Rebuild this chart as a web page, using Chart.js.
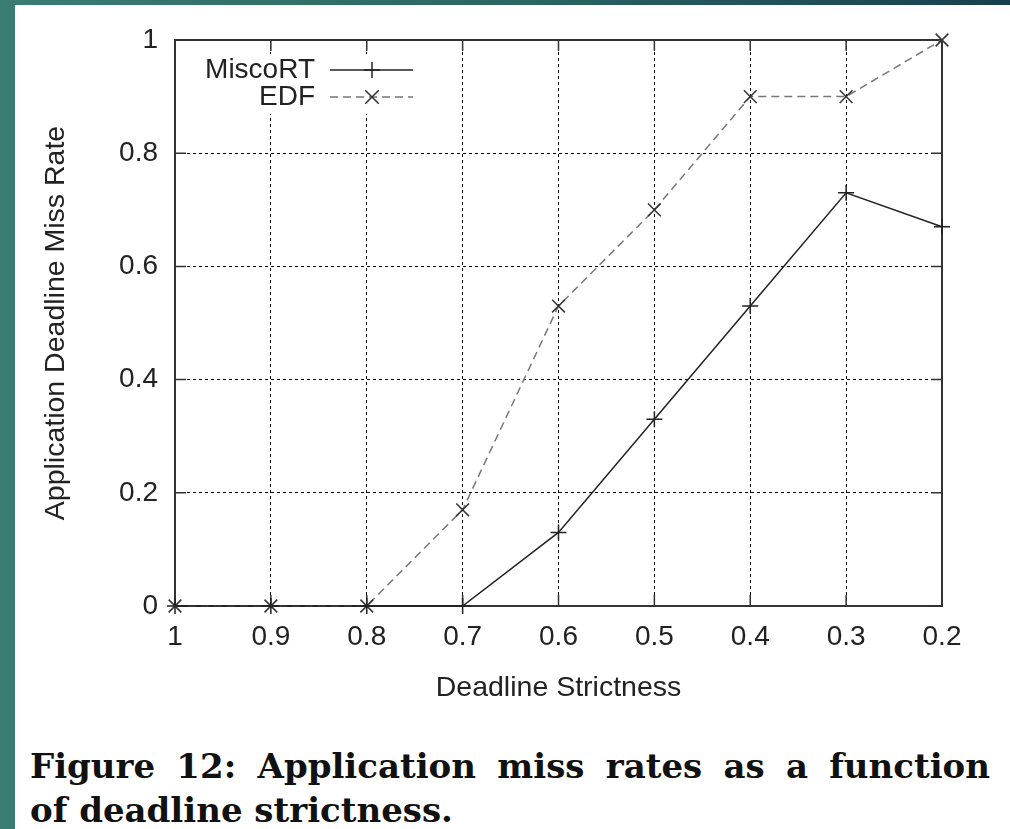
<!DOCTYPE html>
<html>
<head>
<meta charset="utf-8">
<script src="https://cdn.jsdelivr.net/npm/chart.js@4"></script>
<style>
  html, body { margin: 0; padding: 0; }
  body {
    width: 1010px; height: 829px; overflow: hidden; position: relative;
    background: linear-gradient(90deg, #3b7d72 0%, #2c6663 50%, #173f4f 100%);
  }
  #paper { position: absolute; left: 15px; top: 5px; width: 995px; height: 824px; background: #fff; }
  #wrap { position: absolute; left: 0; top: 0; width: 995px; height: 700px; }
  #caption {
    position: absolute; left: 15px; top: 739px; width: 960px;
    font-family: "DejaVu Serif", serif; font-weight: bold; font-size: 34px; line-height: 44px;
    color: #111; text-align: left;
  }
  #caption .l1 { display: block; text-align: justify; text-align-last: justify; }
</style>
</head>
<body>
<div id="paper">
  <div id="wrap"><canvas id="myChart" width="995" height="700"></canvas></div>
  <div id="caption"><span class="l1">Figure 12: Application miss rates as a function</span>of deadline strictness.</div>
</div>
<script>
const strictness = ['1', '0.9', '0.8', '0.7', '0.6', '0.5', '0.4', '0.3', '0.2']
const miscoRT = [0, 0, 0, 0, 0.13, 0.33, 0.53, 0.73, 0.67]
const edf = [0, 0, 0, 0.17, 0.53, 0.7, 0.9, 0.9, 1.0]
const seriesNames = ['MiscoRT', 'EDF']

const font = { family: '"Liberation Sans", Arial, sans-serif', size: 28 }
const titleFont = { family: '"Liberation Sans", Arial, sans-serif', size: 28.5 }

// gnuplot style frame with inward ticks on all four sides
const framePlugin = {
  id: 'frame',
  beforeDatasetsDraw(chart) {
    const { ctx, chartArea: a, scales } = chart
    ctx.save()
    ctx.strokeStyle = '#333'
    ctx.lineWidth = 2
    ctx.setLineDash([])
    ctx.strokeRect(a.left, a.top, a.right - a.left, a.bottom - a.top)
    ctx.lineWidth = 1.5
    ctx.beginPath()
    scales.x.ticks.forEach((t, i) => {
      const x = scales.x.getPixelForTick(i)
      ctx.moveTo(x, a.bottom); ctx.lineTo(x, a.bottom - 11)
      ctx.moveTo(x, a.top); ctx.lineTo(x, a.top + 11)
    })
    scales.y.ticks.forEach((t, i) => {
      const y = scales.y.getPixelForTick(i)
      ctx.moveTo(a.left, y); ctx.lineTo(a.left + 11, y)
      ctx.moveTo(a.right, y); ctx.lineTo(a.right - 11, y)
    })
    ctx.stroke()
    ctx.restore()
  }
}

function mark(ctx, style, x, y, r) {
  ctx.beginPath()
  if (style === 'cross') {
    ctx.moveTo(x - r, y); ctx.lineTo(x + r, y)
    ctx.moveTo(x, y - r); ctx.lineTo(x, y + r)
  } else {
    const d = r * 0.75
    ctx.moveTo(x - d, y - d); ctx.lineTo(x + d, y + d)
    ctx.moveTo(x - d, y + d); ctx.lineTo(x + d, y - d)
  }
  ctx.stroke()
}

const keyPlugin = {
  id: 'key',
  afterDatasetsDraw(chart) {
    const { ctx, chartArea: a } = chart
    ctx.save()
    ctx.fillStyle = '#fff'
    ctx.fillRect(a.left + 12, a.top + 14, 240, 60)
    ctx.font = '28px "Liberation Sans", Arial, sans-serif'
    ctx.textAlign = 'right'
    ctx.textBaseline = 'middle'
    chart.data.datasets.forEach((ds, i) => {
      const y = a.top + 30 + i * 27
      ctx.fillStyle = '#222'
      ctx.fillText(ds.label, a.left + 140, y)
      ctx.strokeStyle = ds.borderColor
      ctx.lineWidth = ds.borderWidth
      ctx.setLineDash(ds.borderDash || [])
      ctx.beginPath()
      ctx.moveTo(a.left + 155, y); ctx.lineTo(a.left + 238, y)
      ctx.stroke()
      ctx.setLineDash([])
      ctx.strokeStyle = ds.pointBorderColor
      ctx.lineWidth = 1.5
      mark(ctx, ds.pointStyle, a.left + 197, y, ds.pointRadius)
    })
    ctx.restore()
  }
}

const ctx = document.getElementById('myChart')
const myChart = new Chart(ctx, {
  type: 'line',
  data: {
    labels: strictness,
    datasets: [{
      label: seriesNames[0],
      data: miscoRT,
      borderColor: '#222',
      borderWidth: 1.5,
      pointStyle: 'cross',
      pointRadius: 8,
      pointBorderColor: '#222',
      pointBorderWidth: 1.5,
      clip: false
    }, {
      label: seriesNames[1],
      data: edf,
      borderColor: '#777',
      borderWidth: 1.5,
      borderDash: [8, 5],
      pointStyle: 'crossRot',
      pointRadius: 9,
      pointBorderColor: '#333',
      pointBorderWidth: 1.5,
      clip: false
    }]
  },
  options: {
    responsive: false,
    animation: false,
    layout: { padding: { top: 35, right: 68, left: 0, bottom: 0 } },
    plugins: { legend: { display: false }, tooltip: { enabled: false } },
    scales: {
      x: {
        offset: false,
        grid: { color: '#000', lineWidth: 1, drawTicks: false, offset: false },
        border: { display: false, dash: [3, 3] },
        ticks: { color: '#222', font: font, padding: 14, maxRotation: 0, autoSkip: false },
        title: { display: true, text: 'Deadline Strictness', color: '#222', font: titleFont, padding: { top: 13, bottom: 0 } },
        afterFit(scale) { scale.height = 99 }
      },
      y: {
        min: 0,
        max: 1,
        grid: { color: '#000', lineWidth: 1, drawTicks: false },
        border: { display: false, dash: [3, 3] },
        ticks: {
          stepSize: 0.2, color: '#222', font: font, padding: 17,
          callback: (v) => String(Math.round(v * 10) / 10)
        },
        title: { display: true, text: 'Application Deadline Miss Rate', color: '#222', font: titleFont, padding: { top: 24, bottom: 0 } },
        afterFit(scale) { scale.width = 160 }
      }
    }
  },
  plugins: [framePlugin, keyPlugin]
})
</script>
</body>
</html>
